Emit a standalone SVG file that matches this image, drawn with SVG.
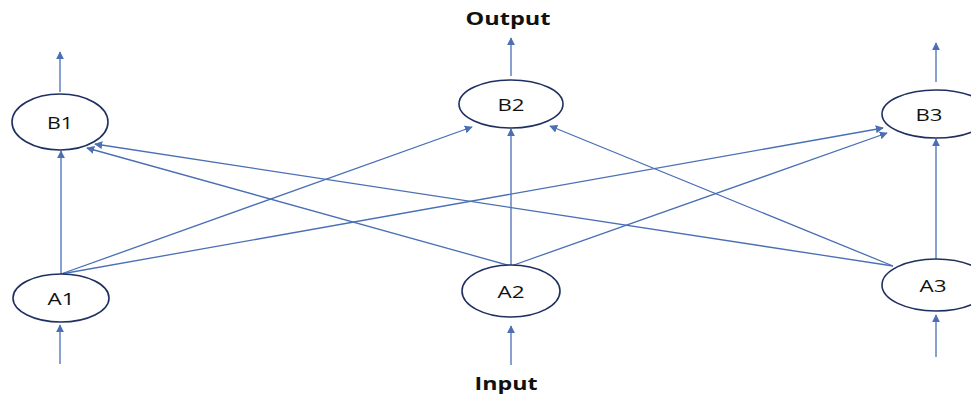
<svg xmlns="http://www.w3.org/2000/svg" width="971" height="394" viewBox="0 0 971 394">
<style>
.n{fill:#fff;stroke:#1f3060;stroke-width:1.6}
.t{font-family:"Open Sans","Liberation Sans",sans-serif;font-size:16px;fill:#111;text-anchor:middle;dominant-baseline:central}
.h{font-family:"Open Sans","Liberation Sans",sans-serif;font-size:17px;font-weight:bold;fill:#111;text-anchor:middle;dominant-baseline:central}
.c{stroke:#4a6fb5;stroke-width:1.3;fill:none;marker-end:url(#ah)}
</style>
<defs>
<marker id="ah" viewBox="0 0 10 10" refX="9" refY="5" markerWidth="8" markerHeight="8" markerUnits="userSpaceOnUse" orient="auto">
<path d="M0,0 L10,5 L0,10 z" fill="#4a6fb5"/>
</marker>
</defs>
<g id="connectors">
<line class="c" x1="60" y1="92" x2="60" y2="52"/>
<line class="c" x1="511" y1="76" x2="511" y2="38"/>
<line class="c" x1="936" y1="82" x2="936" y2="43"/>
<line class="c" x1="60" y1="364" x2="60" y2="325"/>
<line class="c" x1="511" y1="365" x2="511" y2="326"/>
<line class="c" x1="936" y1="357" x2="936" y2="315"/>
<line class="c" x1="61" y1="274" x2="61" y2="151"/>
<line class="c" x1="61" y1="274" x2="472" y2="127"/>
<line class="c" x1="61" y1="274" x2="883" y2="128"/>
<line class="c" x1="511" y1="266" x2="87" y2="148"/>
<line class="c" x1="511" y1="266" x2="511" y2="129"/>
<line class="c" x1="511" y1="266" x2="887" y2="133"/>
<line class="c" x1="893" y1="266" x2="95" y2="144"/>
<line class="c" x1="893" y1="266" x2="550" y2="126"/>
<line class="c" x1="936" y1="260" x2="936" y2="139"/>
</g>
<g id="B1"><ellipse class="n" cx="60" cy="122" rx="48" ry="28"/><text class="t" x="60" y="123" textLength="26" lengthAdjust="spacingAndGlyphs">B1</text></g>
<g id="B2"><ellipse class="n" cx="511" cy="104" rx="52" ry="24"/><text class="t" x="511" y="105" textLength="27" lengthAdjust="spacingAndGlyphs">B2</text></g>
<g id="B3"><ellipse class="n" cx="936" cy="114" rx="54" ry="24"/><text class="t" x="929" y="115" textLength="27" lengthAdjust="spacingAndGlyphs">B3</text></g>
<g id="A1"><ellipse class="n" cx="61" cy="298" rx="48" ry="24"/><text class="t" x="61" y="299" textLength="27" lengthAdjust="spacingAndGlyphs">A1</text></g>
<g id="A2"><ellipse class="n" cx="511" cy="291" rx="49" ry="26"/><text class="t" x="511" y="292" textLength="27" lengthAdjust="spacingAndGlyphs">A2</text></g>
<g id="A3"><ellipse class="n" cx="936" cy="285" rx="54" ry="26"/><text class="t" x="933" y="286" textLength="27" lengthAdjust="spacingAndGlyphs">A3</text></g>
<text class="h" x="508" y="18" textLength="85" lengthAdjust="spacingAndGlyphs">Output</text>
<text class="h" x="506" y="383" textLength="63" lengthAdjust="spacingAndGlyphs">Input</text>
</svg>
